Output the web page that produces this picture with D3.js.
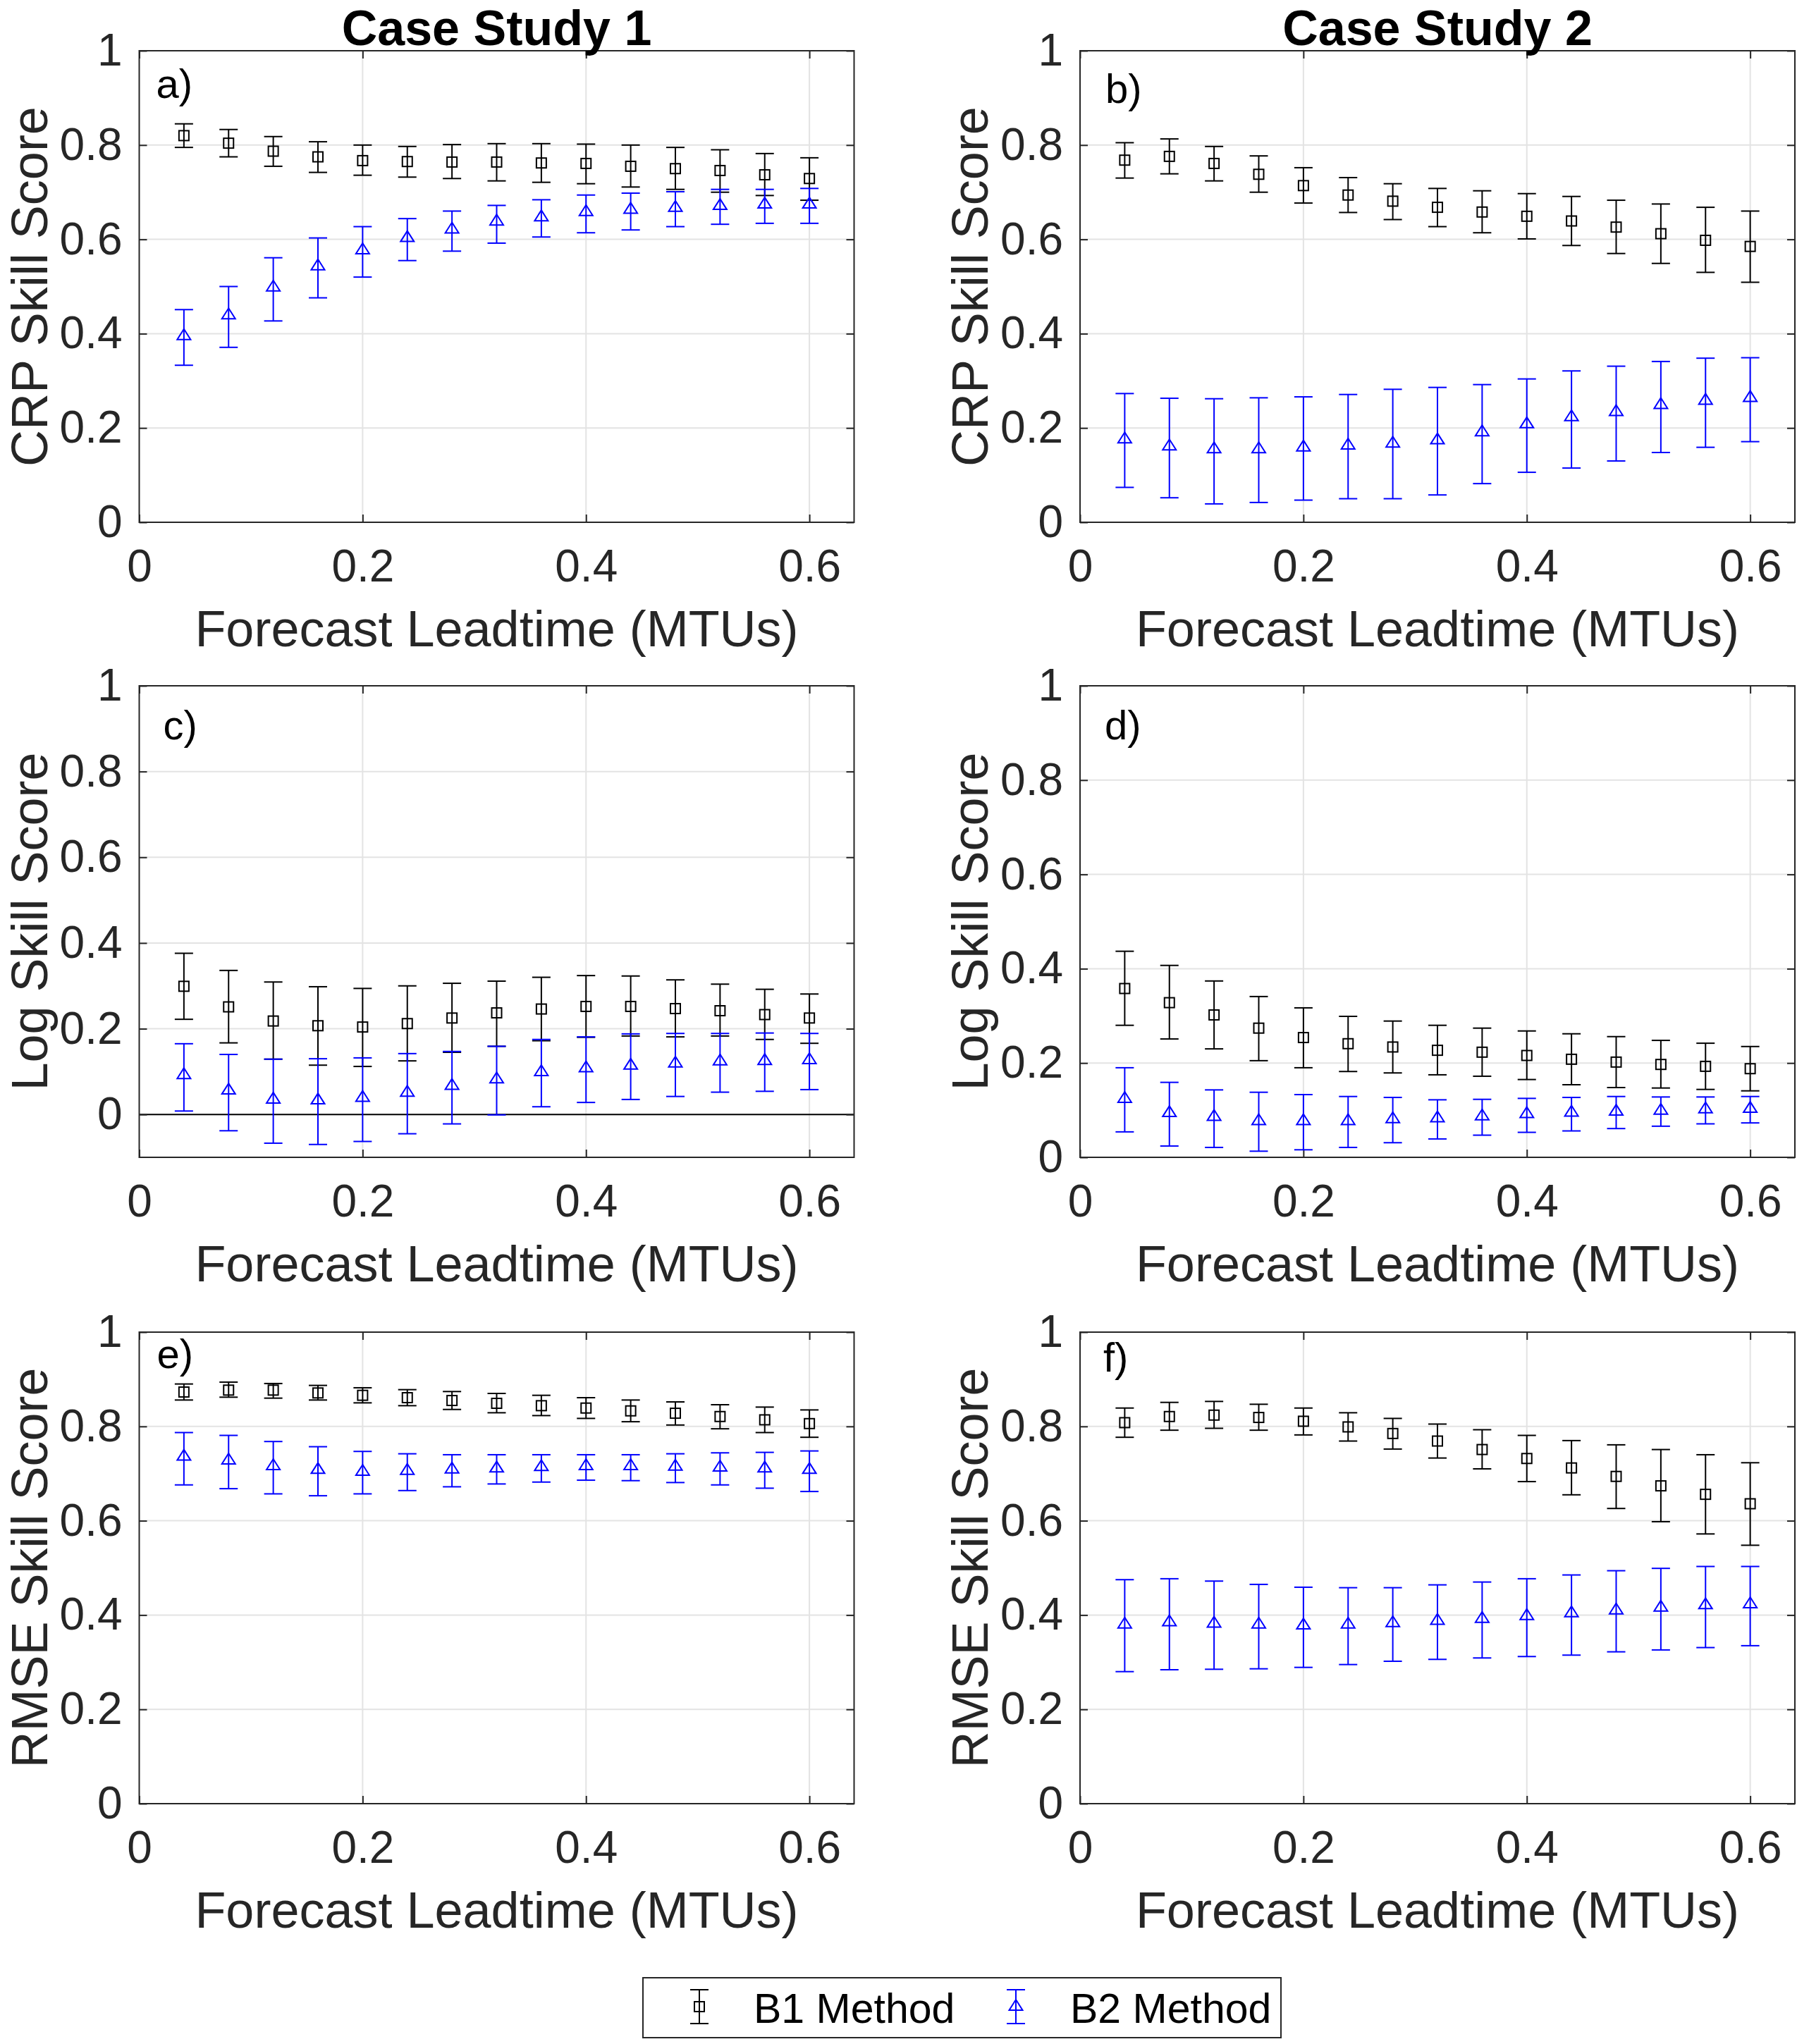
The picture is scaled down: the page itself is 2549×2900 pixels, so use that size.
<!DOCTYPE html>
<html>
<head>
<meta charset="utf-8">
<script src="https://cdn.jsdelivr.net/npm/d3@7"></script>
<style>
body { margin: 0; background: #fff; }
text { font-family: "Liberation Sans", Arial, Helvetica, sans-serif; }
</style>
</head>
<body>
<script>
var leadtimes = [0.04, 0.08, 0.12, 0.16, 0.20, 0.24, 0.28, 0.32, 0.36, 0.40, 0.44, 0.48, 0.52, 0.56, 0.60];
var xTicks = [0, 0.2, 0.4, 0.6];
var yTicks = [0, 0.2, 0.4, 0.6, 0.8, 1];
var columnTitles = ['Case Study 1', 'Case Study 2'];
var yLabels = ['CRP Skill Score', 'Log Skill Score', 'RMSE Skill Score'];
var xLabel = 'Forecast Leadtime (MTUs)';
var panelLetters = ['a)', 'b)', 'c)', 'd)', 'e)', 'f)'];
var methodNames = ['B1 Method', 'B2 Method'];

// a) CRP skill, case study 1
var crp1B1   = [0.820, 0.804, 0.787, 0.775, 0.767, 0.765, 0.764, 0.764, 0.762, 0.761, 0.755, 0.750, 0.746, 0.737, 0.729];
var crp1B1Hi = [0.845, 0.833, 0.818, 0.807, 0.800, 0.797, 0.801, 0.803, 0.803, 0.802, 0.800, 0.795, 0.790, 0.782, 0.773];
var crp1B1Lo = [0.795, 0.775, 0.755, 0.742, 0.736, 0.732, 0.729, 0.724, 0.721, 0.718, 0.711, 0.706, 0.700, 0.693, 0.683];
var crp1B2   = [0.395, 0.439, 0.498, 0.543, 0.577, 0.603, 0.621, 0.638, 0.647, 0.658, 0.663, 0.667, 0.671, 0.674, 0.674];
var crp1B2Hi = [0.451, 0.500, 0.561, 0.603, 0.627, 0.644, 0.660, 0.672, 0.684, 0.694, 0.698, 0.701, 0.706, 0.706, 0.708];
var crp1B2Lo = [0.333, 0.371, 0.427, 0.476, 0.520, 0.555, 0.575, 0.592, 0.605, 0.614, 0.620, 0.627, 0.632, 0.634, 0.634];

// b) CRP skill, case study 2
var crp2B1   = [0.768, 0.776, 0.761, 0.738, 0.714, 0.694, 0.681, 0.668, 0.658, 0.649, 0.639, 0.626, 0.612, 0.598, 0.585];
var crp2B1Hi = [0.805, 0.813, 0.797, 0.777, 0.752, 0.731, 0.718, 0.708, 0.703, 0.697, 0.691, 0.683, 0.675, 0.668, 0.660];
var crp2B1Lo = [0.730, 0.739, 0.724, 0.700, 0.677, 0.657, 0.642, 0.627, 0.614, 0.601, 0.587, 0.570, 0.549, 0.530, 0.509];
var crp2B2   = [0.176, 0.161, 0.155, 0.155, 0.159, 0.163, 0.167, 0.174, 0.191, 0.208, 0.223, 0.234, 0.249, 0.258, 0.264];
var crp2B2Hi = [0.273, 0.263, 0.262, 0.264, 0.266, 0.271, 0.282, 0.286, 0.292, 0.304, 0.321, 0.331, 0.341, 0.348, 0.349];
var crp2B2Lo = [0.074, 0.052, 0.039, 0.042, 0.047, 0.050, 0.050, 0.058, 0.082, 0.106, 0.115, 0.130, 0.148, 0.159, 0.171];

// c) Log skill, case study 1
var log1B1   = [0.299, 0.251, 0.218, 0.207, 0.204, 0.212, 0.225, 0.237, 0.246, 0.252, 0.252, 0.247, 0.242, 0.233, 0.225];
var log1B1Hi = [0.376, 0.336, 0.309, 0.298, 0.294, 0.300, 0.306, 0.311, 0.320, 0.324, 0.323, 0.314, 0.304, 0.292, 0.281];
var log1B1Lo = [0.222, 0.167, 0.129, 0.115, 0.112, 0.125, 0.145, 0.159, 0.172, 0.180, 0.183, 0.181, 0.183, 0.175, 0.166];
var log1B2   = [0.092, 0.056, 0.035, 0.033, 0.039, 0.051, 0.067, 0.082, 0.099, 0.108, 0.114, 0.119, 0.124, 0.125, 0.127];
var log1B2Hi = [0.165, 0.140, 0.129, 0.130, 0.132, 0.142, 0.147, 0.159, 0.175, 0.181, 0.188, 0.189, 0.189, 0.190, 0.189];
var log1B2Lo = [0.008, -0.038, -0.067, -0.070, -0.063, -0.045, -0.022, -0.001, 0.018, 0.028, 0.035, 0.042, 0.052, 0.054, 0.058];

// d) Log skill, case study 2
var log2B1   = [0.358, 0.328, 0.302, 0.274, 0.254, 0.241, 0.234, 0.227, 0.223, 0.216, 0.208, 0.202, 0.197, 0.193, 0.188];
var log2B1Hi = [0.437, 0.407, 0.374, 0.341, 0.317, 0.299, 0.289, 0.280, 0.274, 0.268, 0.262, 0.256, 0.248, 0.242, 0.235];
var log2B1Lo = [0.280, 0.251, 0.230, 0.205, 0.190, 0.182, 0.179, 0.175, 0.172, 0.165, 0.154, 0.148, 0.147, 0.144, 0.141];
var log2B2   = [0.124, 0.094, 0.086, 0.077, 0.077, 0.077, 0.081, 0.083, 0.087, 0.092, 0.095, 0.097, 0.099, 0.102, 0.103];
var log2B2Hi = [0.190, 0.159, 0.143, 0.138, 0.133, 0.129, 0.127, 0.122, 0.123, 0.125, 0.127, 0.129, 0.128, 0.128, 0.129];
var log2B2Lo = [0.054, 0.024, 0.021, 0.013, 0.016, 0.021, 0.031, 0.039, 0.047, 0.053, 0.056, 0.061, 0.066, 0.071, 0.073];

// e) RMSE skill, case study 1
var rmse1B1   = [0.873, 0.877, 0.877, 0.871, 0.866, 0.861, 0.855, 0.849, 0.844, 0.839, 0.833, 0.828, 0.821, 0.814, 0.806];
var rmse1B1Hi = [0.890, 0.894, 0.891, 0.887, 0.882, 0.878, 0.874, 0.870, 0.866, 0.861, 0.856, 0.852, 0.846, 0.841, 0.835];
var rmse1B1Lo = [0.856, 0.862, 0.860, 0.856, 0.850, 0.844, 0.836, 0.829, 0.823, 0.817, 0.810, 0.803, 0.795, 0.787, 0.777];
var rmse1B2   = [0.736, 0.728, 0.716, 0.708, 0.704, 0.706, 0.709, 0.711, 0.714, 0.716, 0.716, 0.715, 0.713, 0.711, 0.708];
var rmse1B2Hi = [0.787, 0.781, 0.768, 0.757, 0.747, 0.742, 0.740, 0.740, 0.740, 0.740, 0.740, 0.742, 0.744, 0.745, 0.748];
var rmse1B2Lo = [0.676, 0.668, 0.657, 0.653, 0.657, 0.664, 0.672, 0.678, 0.682, 0.686, 0.685, 0.681, 0.676, 0.669, 0.662];

// f) RMSE skill, case study 2
var rmse2B1   = [0.808, 0.821, 0.824, 0.819, 0.811, 0.799, 0.785, 0.769, 0.751, 0.732, 0.712, 0.694, 0.674, 0.656, 0.636];
var rmse2B1Hi = [0.839, 0.851, 0.853, 0.847, 0.839, 0.829, 0.817, 0.805, 0.793, 0.781, 0.770, 0.761, 0.751, 0.740, 0.723];
var rmse2B1Lo = [0.777, 0.792, 0.796, 0.792, 0.782, 0.769, 0.752, 0.733, 0.710, 0.683, 0.655, 0.626, 0.598, 0.572, 0.548];
var rmse2B2   = [0.380, 0.385, 0.382, 0.380, 0.378, 0.380, 0.383, 0.388, 0.392, 0.398, 0.404, 0.410, 0.416, 0.421, 0.423];
var rmse2B2Hi = [0.475, 0.477, 0.472, 0.465, 0.459, 0.458, 0.458, 0.464, 0.470, 0.477, 0.485, 0.494, 0.499, 0.503, 0.503];
var rmse2B2Lo = [0.280, 0.284, 0.285, 0.286, 0.289, 0.295, 0.302, 0.306, 0.309, 0.312, 0.315, 0.322, 0.326, 0.331, 0.335];

// layout
var colLeft = [197.5, 1532];
var rowTop = [72, 973, 1890];
var plotW = 1014, plotH = 669;
var axisColor = '#262626';
var b1Color = '#000000', b2Color = '#0000ff';

var panels = [
  { col: 0, row: 0, yMin: 0, b1: [crp1B1, crp1B1Lo, crp1B1Hi], b2: [crp1B2, crp1B2Lo, crp1B2Hi], lx: 24, ly: 67 },
  { col: 1, row: 0, yMin: 0, b1: [crp2B1, crp2B1Lo, crp2B1Hi], b2: [crp2B2, crp2B2Lo, crp2B2Hi], lx: 36, ly: 74 },
  { col: 0, row: 1, yMin: -0.1, b1: [log1B1, log1B1Lo, log1B1Hi], b2: [log1B2, log1B2Lo, log1B2Hi], lx: 34, ly: 76, zeroLine: true },
  { col: 1, row: 1, yMin: 0, b1: [log2B1, log2B1Lo, log2B1Hi], b2: [log2B2, log2B2Lo, log2B2Hi], lx: 35, ly: 76 },
  { col: 0, row: 2, yMin: 0, b1: [rmse1B1, rmse1B1Lo, rmse1B1Hi], b2: [rmse1B2, rmse1B2Lo, rmse1B2Hi], lx: 25, ly: 51 },
  { col: 1, row: 2, yMin: 0, b1: [rmse2B1, rmse2B1Lo, rmse2B1Hi], b2: [rmse2B2, rmse2B2Lo, rmse2B2Hi], lx: 33, ly: 56 }
];

var svg = d3.select('body').append('svg')
    .attr('width', 2549)
    .attr('height', 2900);

var capW = 26, sq = 14, triW = 19, triH = 15;

function squareMarker(g, cx, cy, color) {
  g.append('rect')
    .attr('x', cx - sq / 2).attr('y', cy - sq / 2)
    .attr('width', sq).attr('height', sq)
    .attr('fill', 'none').attr('stroke', color).attr('stroke-width', 2);
}

function triangleMarker(g, cx, cy, color) {
  var pts = [[cx, cy - triH * 2 / 3], [cx + triW / 2, cy + triH / 3], [cx - triW / 2, cy + triH / 3]];
  g.append('polygon')
    .attr('points', pts.map(function (p) { return p.join(','); }).join(' '))
    .attr('fill', 'none').attr('stroke', color).attr('stroke-width', 2)
    .attr('stroke-linejoin', 'miter');
}

function errorBar(g, cx, yLo, yHi, color) {
  g.append('line').attr('x1', cx).attr('x2', cx).attr('y1', yLo).attr('y2', yHi)
    .attr('stroke', color).attr('stroke-width', 2);
  [yLo, yHi].forEach(function (yy) {
    g.append('line').attr('x1', cx - capW / 2).attr('x2', cx + capW / 2).attr('y1', yy).attr('y2', yy)
      .attr('stroke', color).attr('stroke-width', 2);
  });
}

panels.forEach(function (p, i) {
  var left = colLeft[p.col], top = rowTop[p.row];
  var x = d3.scaleLinear().domain([0, 0.64]).range([left, left + plotW]);
  var y = d3.scaleLinear().domain([p.yMin, 1]).range([top + plotH, top]);
  var g = svg.append('g');

  // grid
  g.selectAll('.vgrid').data(xTicks.filter(function (d) { return d > 0; })).enter().append('line')
    .attr('x1', function (d) { return x(d); }).attr('x2', function (d) { return x(d); })
    .attr('y1', top).attr('y2', top + plotH)
    .attr('stroke', '#e3e3e3').attr('stroke-width', 2);
  g.selectAll('.hgrid').data(yTicks.filter(function (d) { return d > p.yMin && d < 1; })).enter().append('line')
    .attr('x1', left).attr('x2', left + plotW)
    .attr('y1', function (d) { return y(d); }).attr('y2', function (d) { return y(d); })
    .attr('stroke', '#e3e3e3').attr('stroke-width', 2);

  if (p.zeroLine) {
    g.append('line').attr('x1', left).attr('x2', left + plotW)
      .attr('y1', y(0)).attr('y2', y(0))
      .attr('stroke', '#000').attr('stroke-width', 2);
  }

  // axes with inward ticks
  g.append('g').attr('transform', 'translate(0,' + (top + plotH) + ')')
    .call(d3.axisBottom(x).tickValues(xTicks).tickSizeInner(-11).tickSizeOuter(0).tickPadding(39)
      .tickFormat(function (d) { return String(d); }));
  g.append('g').attr('transform', 'translate(' + left + ',0)')
    .call(d3.axisLeft(y).tickValues(yTicks).tickSizeInner(-11).tickSizeOuter(0).tickPadding(24)
      .tickFormat(function (d) { return String(d); }));
  g.append('g').attr('transform', 'translate(0,' + top + ')')
    .call(d3.axisTop(x).tickValues(xTicks).tickSizeInner(-11).tickSizeOuter(0).tickFormat(''));
  g.append('g').attr('transform', 'translate(' + (left + plotW) + ',0)')
    .call(d3.axisRight(y).tickValues(yTicks).tickSizeInner(-11).tickSizeOuter(0).tickFormat(''));
  g.selectAll('.domain').remove();
  g.selectAll('.tick line').attr('stroke', axisColor).attr('stroke-width', 2);
  g.selectAll('.tick text').attr('fill', axisColor).style('font-size', '64px')
    .style('font-family', '"Liberation Sans", Arial, Helvetica, sans-serif');

  // data: B1 then B2
  leadtimes.forEach(function (t, k) {
    errorBar(g, x(t), y(p.b1[1][k]), y(p.b1[2][k]), b1Color);
    squareMarker(g, x(t), y(p.b1[0][k]), b1Color);
  });
  leadtimes.forEach(function (t, k) {
    errorBar(g, x(t), y(p.b2[1][k]), y(p.b2[2][k]), b2Color);
    triangleMarker(g, x(t), y(p.b2[0][k]), b2Color);
  });

  // box
  g.append('rect').attr('x', left).attr('y', top).attr('width', plotW).attr('height', plotH)
    .attr('fill', 'none').attr('stroke', axisColor).attr('stroke-width', 2);

  // panel letter
  g.append('text').attr('x', left + p.lx).attr('y', top + p.ly)
    .attr('fill', '#000').style('font-size', '58px').text(panelLetters[i]);

  // axis labels
  g.append('text').attr('x', left + plotW / 2).attr('y', top + plotH + 176)
    .attr('text-anchor', 'middle').attr('fill', axisColor).style('font-size', '72px').text(xLabel);
  g.append('text')
    .attr('transform', 'translate(' + (left - 131) + ',' + (top + plotH / 2) + ') rotate(-90)')
    .attr('text-anchor', 'middle').attr('fill', axisColor).style('font-size', '72px').text(yLabels[p.row]);

  if (p.row === 0) {
    g.append('text').attr('x', left + plotW / 2).attr('y', 64)
      .attr('text-anchor', 'middle').attr('fill', '#000')
      .style('font-size', '70px').style('font-weight', 'bold').text(columnTitles[p.col]);
  }
});

// legend
var leg = svg.append('g');
leg.append('rect').attr('x', 912).attr('y', 2806).attr('width', 905).attr('height', 85)
  .attr('fill', '#fff').attr('stroke', axisColor).attr('stroke-width', 2);
var legX = [992, 1441];
methodNames.forEach(function (name, i) {
  var c = i === 0 ? b1Color : b2Color;
  errorBar(leg, legX[i], 2871, 2823, c);
  if (i === 0) squareMarker(leg, legX[i], 2847, c); else triangleMarker(leg, legX[i], 2847, c);
  leg.append('text').attr('x', legX[i] + 77).attr('y', 2870)
    .attr('fill', '#000').style('font-size', '59px').text(name);
});
</script>
</body>
</html>
